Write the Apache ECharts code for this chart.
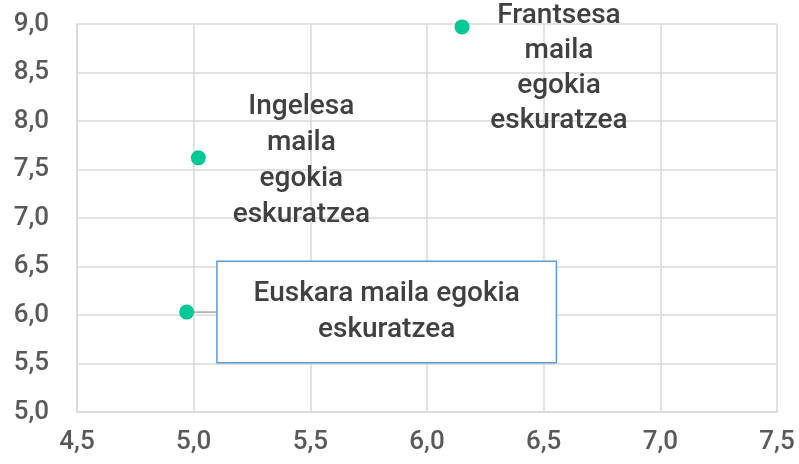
<!DOCTYPE html>
<html>
<head>
<meta charset="utf-8">
<script src="https://cdn.jsdelivr.net/npm/echarts@6/dist/echarts.min.js"></script>
<style>html,body{margin:0;padding:0;background:#fff}#c{width:799px;height:464px}</style>
</head>
<body>
<div id="c"></div>
<script>
var names = ['Euskara maila egokia\neskuratzea', 'Ingelesa\nmaila\negokia\neskuratzea', 'Frantsesa\nmaila\negokia\neskuratzea'];
var xValues = [4.97, 5.02, 6.15];
var yValues = [6.03, 7.62, 8.97];
var xTicks = [4.5, 5.0, 5.5, 6.0, 6.5, 7.0, 7.5];
var yTicks = [5.0, 5.5, 6.0, 6.5, 7.0, 7.5, 8.0, 8.5, 9.0];

var fontFam = 'Roboto';
function fmt(v){ return v.toFixed(1).replace('.', ','); }

var labelStyles = [
  { show: true, position: 'inside', offset: [200, 0], align: 'center', verticalAlign: 'middle',
    width: 290, padding: [14, 24], borderColor: '#5b9bd5', borderWidth: 1.5, backgroundColor: '#fff',
    lineHeight: 36 },
  { show: true, position: 'inside', offset: [103, 3], align: 'center', verticalAlign: 'middle', lineHeight: 36 },
  { show: true, position: 'inside', offset: [97, 42], align: 'center', verticalAlign: 'middle', lineHeight: 35 }
];

var data = xValues.map(function(x, i){
  var item = { value: [x, yValues[i]], name: names[i], label: labelStyles[i] };
  if (i === 0) item.labelLine = { show: true, lineStyle: { color: '#a6a6a6', width: 1.5 } };
  return item;
});

var chart = echarts.init(document.getElementById('c'));
chart.setOption({
  animation: false,
  grid: { left: 77, top: 24, right: 22, bottom: 52, containLabel: false },
  xAxis: {
    type: 'value', min: xTicks[0], max: xTicks[xTicks.length-1], interval: 0.5,
    axisLine: { show: true, lineStyle: { color: '#d9d9d9', width: 1.5 } },
    axisTick: { show: false },
    splitLine: { show: true, lineStyle: { color: '#d9d9d9', width: 1.5 } },
    axisLabel: { formatter: fmt, color: '#595959', fontSize: 26, fontWeight: 500, fontFamily: fontFam, margin: 17 }
  },
  yAxis: {
    type: 'value', min: yTicks[0], max: yTicks[yTicks.length-1], interval: 0.5,
    axisLine: { show: true, lineStyle: { color: '#d9d9d9', width: 1.5 } },
    axisTick: { show: false },
    splitLine: { show: true, lineStyle: { color: '#d9d9d9', width: 1.5 } },
    axisLabel: { formatter: fmt, color: '#595959', fontSize: 26, fontWeight: 500, fontFamily: fontFam, margin: 28 }
  },
  series: [{
    type: 'scatter',
    symbolSize: 15,
    itemStyle: { color: '#00c896', opacity: 1 },
    label: { formatter: '{b}', color: '#404040', fontSize: 28, fontWeight: 500, fontFamily: fontFam },
    data: data
  }]
});
</script>
</body>
</html>
